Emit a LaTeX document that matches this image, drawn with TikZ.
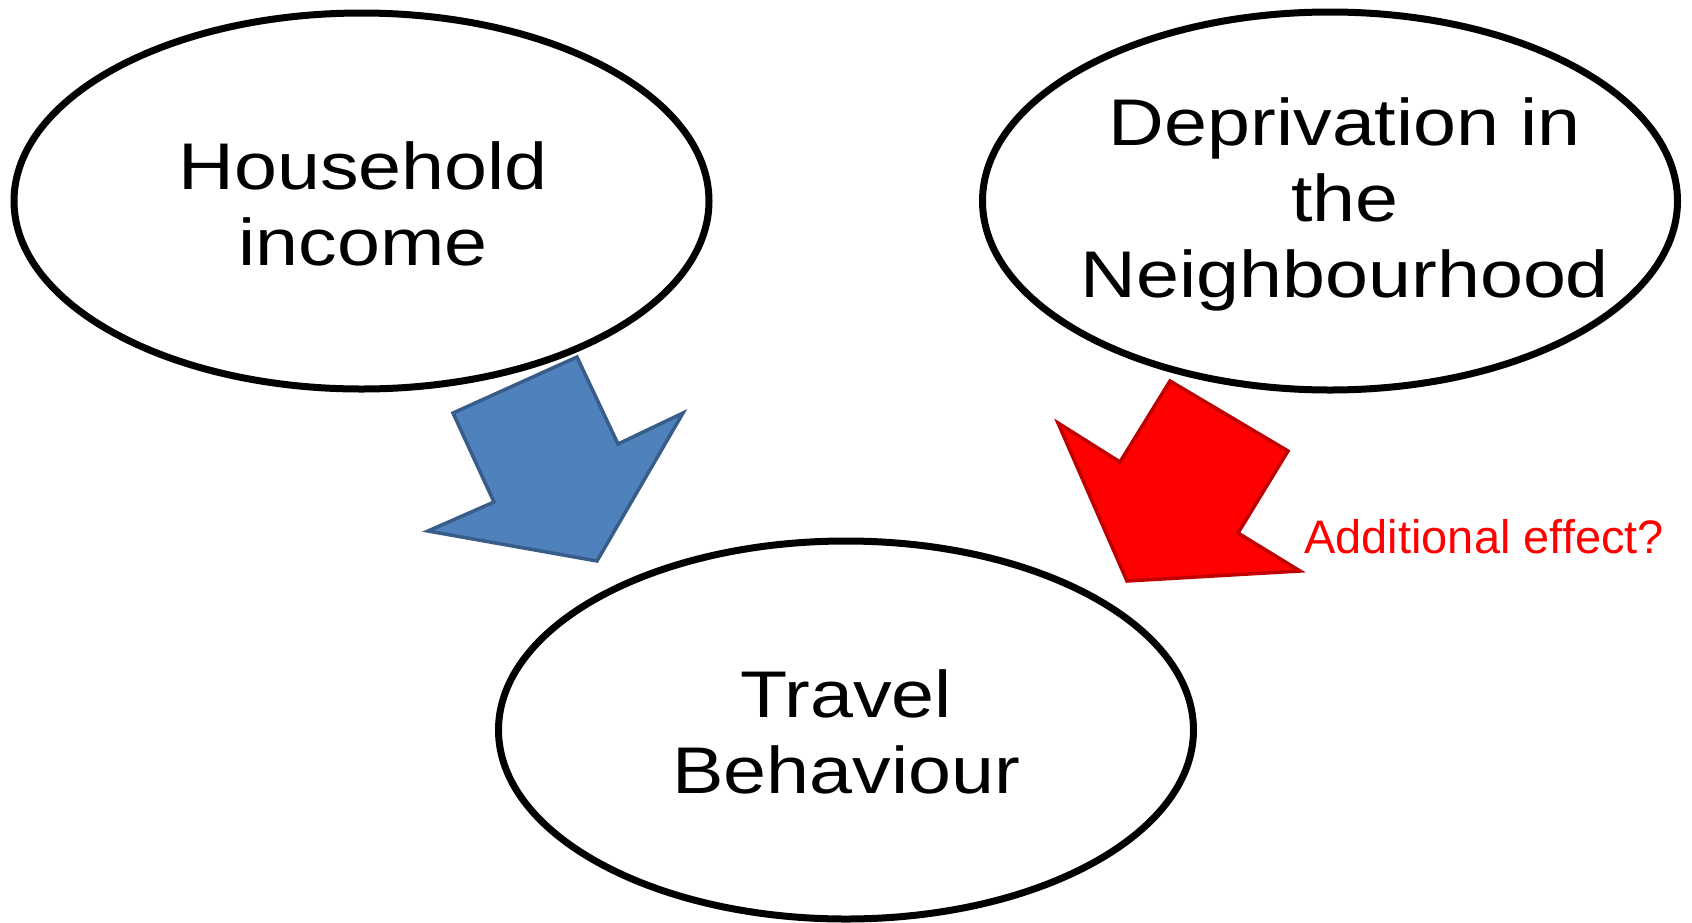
\documentclass[tikz,border=0pt]{standalone}
\usepackage{fontspec}
\setmainfont{Liberation Sans}
\newfontfamily\labelfont[FakeStretch=1.17]{Liberation Sans}
\usetikzlibrary{shapes.geometric}
\definecolor{blueF}{HTML}{4F81BD}
\definecolor{blueE}{HTML}{385D8A}
\definecolor{redE}{HTML}{C00000}
\begin{document}
\begin{tikzpicture}[x=1pt,y=-1pt,
  oval/.style={ellipse, draw=black, line width=7pt, fill=white, minimum width=695pt, minimum height=378pt, inner sep=0pt},
  lbl/.style={font=\labelfont\fontsize{66}{76}\selectfont, align=center, inner sep=0pt},
  bluearrow/.style={fill=blueF, draw=blueE, line width=3.5pt, line join=miter},
  redarrow/.style={fill=red, draw=redE, line width=3.5pt, line join=miter},
  note/.style={font=\fontsize{47}{54}\selectfont, text=red, inner sep=0pt}
]
\useasboundingbox (0,0) rectangle (1692,922);
% block arrows
\draw[bluearrow] (577,357) -- (618,444) -- (683,413) -- (597,561) -- (428,531) -- (494,502) -- (453,413) -- cycle;
\draw[redarrow] (1170,381) -- (1288,451) -- (1238,533) -- (1300,571) -- (1127,581) -- (1058,423) -- (1120,462) -- cycle;
% ellipses
\node[oval, minimum height=376pt] (hh) at (361.5,201) {};
\node[oval] (dep) at (1330,201) {};
\node[oval] (tb) at (846,730) {};
% labels
\node[lbl] (hht) at (363,204) {Household\\income};
\node[lbl] (dept) at (1345,204) {Deprivation in\\the\\Neighbourhood};
\node[lbl] (tbt) at (846,732) {Travel\\Behaviour};
\node[note, anchor=base west] (add) at (1304,553) {Additional effect?};
\end{tikzpicture}
\end{document}
